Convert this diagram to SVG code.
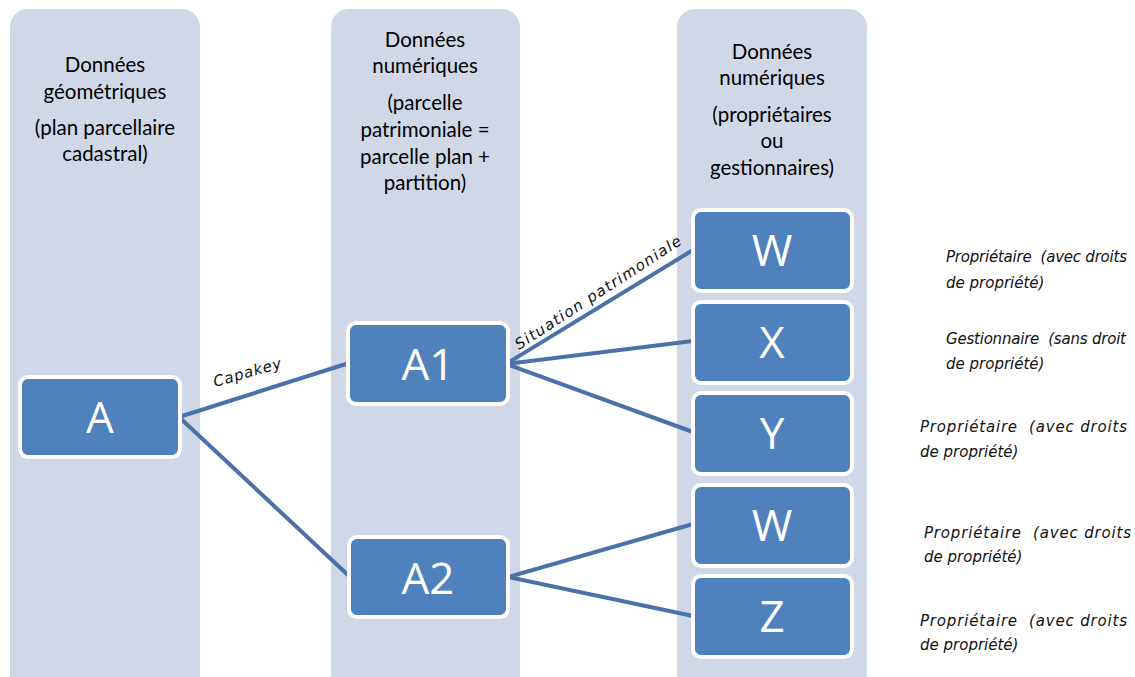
<svg xmlns="http://www.w3.org/2000/svg" width="1135" height="677" viewBox="0 0 1135 677">
<style>
.col{fill:#d0d8e8}
.box{fill:#4f81bd;stroke:#ffffff;stroke-width:4}
.hd{font-family:Lato,"Open Sans",sans-serif;font-size:20.5px;fill:#000;text-anchor:middle}
.lt{font-family:"Open Sans",Lato,sans-serif;font-size:44px;fill:#fff;text-anchor:middle}
.cn{stroke:#4a71a8;stroke-width:4;fill:none;stroke-linecap:butt}
.lb{font-family:"DejaVu Sans",sans-serif;font-style:italic;font-size:15px;fill:#111}
.note{font-family:"DejaVu Sans",sans-serif;font-style:italic;font-size:15px;fill:#111;white-space:pre}
</style>
<rect width="1135" height="677" fill="#ffffff"/>
<g id="col1"><rect class="col" x="10" y="9" width="190" height="690" rx="18"/>
<text class="hd" x="105" y="72">Données</text><text class="hd" x="105" y="99">géométriques</text>
<text class="hd" x="105" y="135">(plan parcellaire</text><text class="hd" x="105" y="161">cadastral)</text></g>
<g id="col2"><rect class="col" x="331" y="9" width="189" height="690" rx="18"/>
<text class="hd" x="425" y="47">Données</text><text class="hd" x="425" y="73">numériques</text>
<text class="hd" x="425" y="110">(parcelle</text><text class="hd" x="425" y="137">patrimoniale =</text>
<text class="hd" x="425" y="164">parcelle plan +</text><text class="hd" x="425" y="190">partition)</text></g>
<g id="col3"><rect class="col" x="677" y="9" width="190" height="690" rx="18"/>
<text class="hd" x="772" y="59">Données</text><text class="hd" x="772" y="85">numériques</text>
<text class="hd" x="772" y="122">(propriétaires</text><text class="hd" x="772" y="148">ou</text>
<text class="hd" x="772" y="175">gestionnaires)</text></g>
<g id="connectors">
<line class="cn" x1="179" y1="417" x2="349" y2="363"/>
<line class="cn" x1="179" y1="417" x2="349" y2="576"/>
<line class="cn" x1="506" y1="364" x2="693" y2="250"/>
<line class="cn" x1="506" y1="364" x2="693" y2="341"/>
<line class="cn" x1="506" y1="364" x2="693" y2="432"/>
<line class="cn" x1="508" y1="577" x2="693" y2="524"/>
<line class="cn" x1="508" y1="577" x2="693" y2="616"/>
<text class="lb" transform="translate(215,387) rotate(-16)" textLength="70">Capakey</text>
<text class="lb" transform="translate(519,350) rotate(-33)" textLength="195">Situation patrimoniale</text>
</g>
<g id="nA"><rect class="box" x="20" y="377" width="160" height="80" rx="8"/><text class="lt" x="100" y="433">A</text></g>
<g id="nA1"><rect class="box" x="348" y="323" width="160" height="81" rx="8"/><text class="lt" x="428" y="380">A1</text></g>
<g id="nA2"><rect class="box" x="349" y="537" width="159" height="80" rx="8"/><text class="lt" x="428" y="594">A2</text></g>
<g id="nW1"><rect class="box" x="693" y="210" width="159" height="81" rx="8"/><text class="lt" x="772" y="266">W</text></g>
<g id="nX"><rect class="box" x="693" y="302" width="159" height="81" rx="8"/><text class="lt" x="772" y="358">X</text></g>
<g id="nY"><rect class="box" x="693" y="393" width="159" height="81" rx="8"/><text class="lt" x="772" y="449">Y</text></g>
<g id="nW2"><rect class="box" x="693" y="485" width="159" height="81" rx="8"/><text class="lt" x="772" y="541">W</text></g>
<g id="nZ"><rect class="box" x="693" y="576" width="159" height="81" rx="8"/><text class="lt" x="772" y="632">Z</text></g>
<g id="notes">
<text class="note" x="946" y="262" textLength="181">Propriétaire  (avec droits</text><text class="note" x="946" y="288">de propriété)</text>
<text class="note" x="946" y="344" textLength="180">Gestionnaire  (sans droit</text><text class="note" x="946" y="369">de propriété)</text>
<text class="note" x="920" y="432" textLength="207">Propriétaire  (avec droits</text><text class="note" x="920" y="457">de propriété)</text>
<text class="note" x="924" y="538" textLength="207">Propriétaire  (avec droits</text><text class="note" x="924" y="562">de propriété)</text>
<text class="note" x="920" y="626" textLength="207">Propriétaire  (avec droits</text><text class="note" x="920" y="650">de propriété)</text>
</g>
</svg>
